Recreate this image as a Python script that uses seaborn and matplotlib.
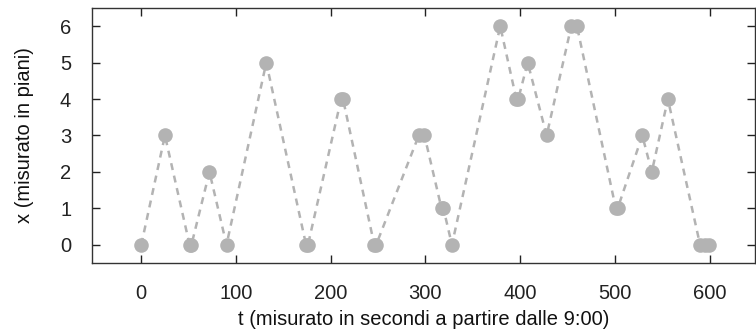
import matplotlib
matplotlib.use("Agg")
import matplotlib.pyplot as plt
import numpy as np
import pandas as pd
import seaborn as sns

# tempi (s dalle 9:00) e piano dell'ascensore
t_sec = [0, 25, 51, 53, 72, 90, 132, 174, 176, 211, 213, 246, 248,
         293, 299, 317, 319, 328, 379, 396, 398, 408, 428, 454, 460,
         501, 503, 529, 539, 556, 590, 595, 599]
piano = [0, 3, 0, 0, 2, 0, 5, 0, 0, 4, 4, 0, 0,
         3, 3, 1, 1, 0, 6, 4, 4, 5, 3, 6, 6,
         1, 1, 3, 2, 4, 0, 0, 0]

x_ticks = [0, 100, 200, 300, 400, 500, 600]
y_ticks = [0, 1, 2, 3, 4, 5, 6]

sns.set_style("ticks")
plt.rcParams['font.family'] = ['Liberation Sans', 'DejaVu Sans']

df = pd.DataFrame({"t": t_sec, "x": piano})

fig = plt.figure(figsize=(7.56, 3.36), dpi=100)
ax = fig.add_axes([0.1217, 0.2173, 0.8770, 0.7590])

grigio = "#b3b3b3"
sns.lineplot(data=df, x="t", y="x", estimator=None, sort=False, ax=ax,
             color=grigio, linewidth=1.8, linestyle=(0, (2.8, 2.3)),
             marker="o", markersize=10.5, markeredgewidth=0,
             markerfacecolor=grigio)

ax.set_xlim(-52, 648)
ax.set_ylim(-0.5, 6.5)
ax.set_xticks(x_ticks)
ax.set_yticks(y_ticks)
ax.tick_params(direction="in", length=6, width=1, top=True, right=True,
               labelsize=14.5, colors="#222222", pad=15)
for s in ax.spines.values():
    s.set_color("#333333")
    s.set_linewidth(1)
    s.set_visible(True)

ax.set_xlabel("t (misurato in secondi a partire dalle 9:00)", fontsize=14.5,
              labelpad=5, color="#111111")
ax.set_ylabel("x (misurato in piani)", fontsize=14.5, labelpad=19,
              color="#111111")

fig.savefig("out.png", dpi=100)
